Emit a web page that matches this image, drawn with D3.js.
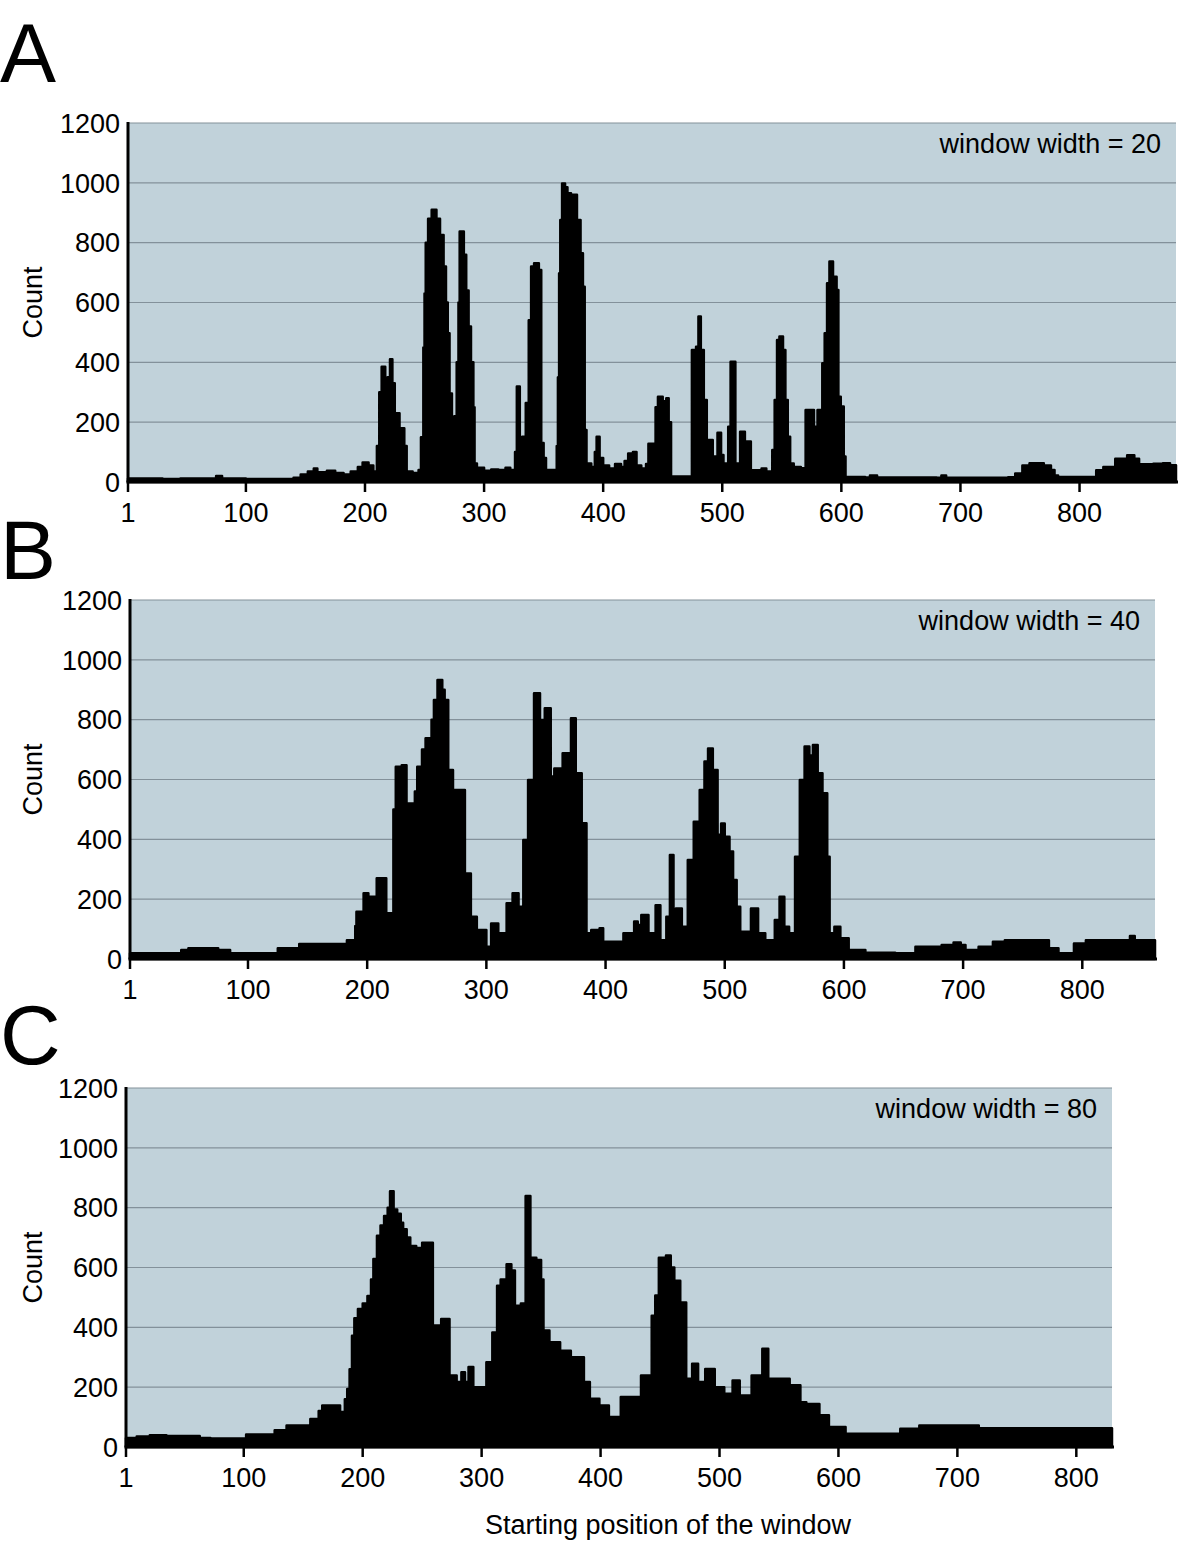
<!DOCTYPE html>
<html>
<head>
<meta charset="utf-8">
<script src="https://cdn.jsdelivr.net/npm/d3@7"></script>
<style>
  body { margin: 0; background: #fff; }
  svg { display: block; }
  text { font-family: "Liberation Sans", Arial, Helvetica, sans-serif; fill: #000; }
</style>
</head>
<body>
<svg id="chart"></svg>
<script>
// tick values and labels
const yTicks = [0, 200, 400, 600, 800, 1000, 1200];
const xTicks = [1, 100, 200, 300, 400, 500, 600, 700, 800];
const panelLetters = ["A", "B", "C"];
const windowWidths = [20, 40, 80];
const lastPosition = [881, 861, 830];

// counts as [starting position, count] steps
const stepsA = [[1,12],[30,10],[45,12],[75,20],[80,12],[100,10],[140,14],[146,25],[152,35],[157,45],[160,33],[168,38],[175,30],[182,25],[188,35],[194,50],[198,65],[203,55],[207,35],
  [210,120],[212,300],[214,385],[217,260],[219,350],[221,410],[223,330],[225,230],[229,180],[233,120],[235,35],[240,30],[245,40],
  [247,150],[249,450],[250,630],[251,800],[253,880],[256,910],[260,880],[263,826],[266,720],[268,600],[269.5,497],[271,296],[273,151],
  [275,220],[277,400],[278.5,600],[279.5,837],[283,760],[285,640],[287,520],[289,400],[291,250],[292,62],[294,48],[300,38],[306,42],[312,40],[318,48],[322,40],
  [326,100],[327.5,319],[330,97],[332,151],[335,264],[337.5,541],[339.5,720],[342,731],[346,709],[348,130],[350,80],[352,40],[358,40],
  [361,120],[362,350],[363,698],[364,876],[365.5,998],[368,985],[370,965],[373,960],[378,876],[381,765],[383,653],[384.5,174],[386,62],
  [390,50],[393,100],[394.5,151],[397,80],[400,55],[405,45],[410,60],[415,50],[418,70],[421,95],[425,100],[428,55],[432,45],[436,60],
  [438,128],[444,250],[446,285],[450,270],[453,280],[455,200],[457,18],
  [474.5,441],[478,452],[480,553],[482,441],[484.5,274],[487,140],[492,85],[496,165],[499,90],[501,62],
  [505,185],[507,402],[511,62],[515,168],[519,135],[524,39],[533,45],[537,35],
  [542,107],[544,274],[546,475],[548,486],[551,441],[553,274],[555,151],[557,62],[560,50],[566,46],
  [570,241],[577,185],[580,241],[584,397],[586,497],[588,664],[590,737],[593,686],[596,642],[597.5,285],[599.5,252],[602,85],[603.5,17],
  [620,15],[624,22],[630,15],[680,14],[684,22],[688,14],[740,16],[746,28],[752,55],[758,63],[770,55],[776,40],[779,22],[782,17],
  [814,39],[820,50],[830,78],[840,89],[846,78],[850,59],[862,61],[870,63],[876,56]];

const stepsB = [[1,19],[44,30],[50,36],[75,30],[85,19],[125,36],[143,50],[183,63],[190,110],[191,158],[197,220],[201,208],[208,270],[216,153],
  [222,500],[224,643],[229,648],[233,520],[239,409],[240,560],[242,643],[246,700],[249,738],[254,800],[256,866],[259,933],[263,900],[265,866],[268,632],
  [272,353],[273,565],[282,286],[287,141],[292,97],[300,41],[304,119],[310,86],[317,186],[322,220],[327,175],
  [331,398],[335,598],[340,888],[345,799],[349,838],[354,610],[357,637],[364,688],[371,805],[375,621],[380,454],[384,86],
  [388,97],[395,103],[398,58],[402,58],[415,86],[424,125],[427,114],[430,147],[436,86],[442,180],[446,63],[451,141],[454,348],[457,141],[459,169],[464,108],
  [469,331],[474,459],[479,565],[483,660],[486,704],[490,632],[494,415],[497,453],[500,409],[504,359],[507,264],[510,175],[513,91],
  [522,169],[528,86],[534,63],[542,130],[546,208],[550,108],[554,86],
  [559,342],[563,598],[567,710],[571,680],[574,715],[578,621],[582,554],[586,342],[588,86],[592,108],[597,69],[604,30],[618,21],
  [643,19],[660,41],[682,47],[692,55],[698,47],[702,30],[713,41],[725,58],[735,63],[772,36],[780,19],[793,52],[803,63],[840,77],[844,63]];

const stepsC = [[1,30],[10,35],[21,39],[35,37],[63,30],[72,28],[102,42],[126,56],[136,72],[156,94],[163,120],[166,139],[181,117],
  [185,160],[187,194],[189,260],[191,372],[193,430],[196,461],[200,480],[204,505],[207,560],[209,628],[212,706],[215,740],[218,772],[221,800],
  [223,855],[226,794],[229,780],[232,750],[234,728],[237,700],[240,672],[245,665],[250,683],
  [259,406],[266,428],[273,239],[279,217],[283,250],[286,217],[289,267],[293,200],
  [304,283],[309,383],[313,539],[316,560],[321,611],[325,590],[328,472],[333,480],[337,839],[341,633],[346,625],[350,560],
  [352,389],[357,350],[366,322],[375,300],[386,217],[391,161],[399,139],[407,100],
  [417,167],[434,239],[443,439],[446,506],[449,633],[455,640],[459,600],[462,556],[467,483],[472,228],[477,278],[482,217],[488,261],[496,200],[504,178],[511,222],[517,172],
  [527,239],[536,328],[541,228],[559,206],[568,150],[573,144],[584,106],[592,67],[606,44],[652,61],[668,72],[718,63]];

const allSteps = [stepsA, stepsB, stepsC];

// layout of the three panels
const panels = [
  { left: 128, right: 1176, top: 123, bottom: 482, letterY: 82 },
  { left: 130, right: 1155, top: 600, bottom: 959, letterY: 579 },
  { left: 126, right: 1112, top: 1088, bottom: 1447, letterY: 1064 }
];

const fontSize = "27px";

const svg = d3.select("#chart")
  .attr("width", 1196)
  .attr("height", 1542);

panels.forEach((p, i) => {
  const steps = allSteps[i];
  const data = steps.concat([[lastPosition[i], steps[steps.length - 1][1]]]);

  const x = d3.scaleLinear().domain([1, lastPosition[i]]).range([p.left, p.right]);
  const y = d3.scaleLinear().domain([0, 1200]).range([p.bottom, p.top]);

  const g = svg.append("g");

  // panel letter
  g.append("text")
    .attr("x", 0)
    .attr("y", p.letterY)
    .style("font-size", "84px")
    .text(panelLetters[i]);

  // background
  g.append("rect")
    .attr("x", p.left)
    .attr("y", p.top)
    .attr("width", p.right - p.left)
    .attr("height", p.bottom - p.top)
    .attr("fill", "#c1d2da");

  // grid lines
  g.selectAll("line.grid")
    .data(yTicks.filter(d => d > 0))
    .enter()
    .append("line")
    .attr("class", "grid")
    .attr("x1", p.left)
    .attr("x2", p.right)
    .attr("y1", d => y(d))
    .attr("y2", d => y(d))
    .attr("stroke", "#83919a")
    .attr("stroke-width", 1.2);

  // count area
  const area = d3.area()
    .curve(d3.curveStepAfter)
    .x(d => x(d[0]))
    .y0(y(0))
    .y1(d => y(d[1]));

  g.append("path")
    .datum(data)
    .attr("d", area)
    .attr("fill", "#000")
    .attr("stroke", "#000")
    .attr("stroke-width", 2.5)
    .attr("stroke-linejoin", "round");

  // y axis
  g.append("line")
    .attr("x1", p.left).attr("x2", p.left)
    .attr("y1", p.top - 1).attr("y2", p.bottom)
    .attr("stroke", "#000").attr("stroke-width", 3);

  g.selectAll("text.ylab")
    .data(yTicks)
    .enter()
    .append("text")
    .attr("class", "ylab")
    .attr("x", p.left - 8)
    .attr("y", d => y(d))
    .attr("dy", "0.36em")
    .attr("text-anchor", "end")
    .style("font-size", fontSize)
    .text(d => d);

  // x axis
  g.append("line")
    .attr("x1", p.left - 1.5).attr("x2", p.right + 2)
    .attr("y1", p.bottom).attr("y2", p.bottom)
    .attr("stroke", "#000").attr("stroke-width", 3);

  g.selectAll("line.xtick")
    .data(xTicks)
    .enter()
    .append("line")
    .attr("class", "xtick")
    .attr("x1", d => x(d)).attr("x2", d => x(d))
    .attr("y1", p.bottom).attr("y2", p.bottom + 10)
    .attr("stroke", "#000").attr("stroke-width", 2.5);

  g.selectAll("text.xlab")
    .data(xTicks)
    .enter()
    .append("text")
    .attr("class", "xlab")
    .attr("x", d => x(d))
    .attr("y", p.bottom + 30)
    .attr("dy", "0.36em")
    .attr("text-anchor", "middle")
    .style("font-size", fontSize)
    .text(d => d);

  // axis title
  g.append("text")
    .attr("transform", `translate(32,${(p.top + p.bottom) / 2}) rotate(-90)`)
    .attr("dy", "0.36em")
    .attr("text-anchor", "middle")
    .style("font-size", fontSize)
    .text("Count");

  // window width note
  g.append("text")
    .attr("x", p.right - 15)
    .attr("y", p.top + 20)
    .attr("dy", "0.36em")
    .attr("text-anchor", "end")
    .style("font-size", fontSize)
    .text("window width = " + windowWidths[i]);
});

svg.append("text")
  .attr("x", 668)
  .attr("y", 1524)
  .attr("dy", "0.36em")
  .attr("text-anchor", "middle")
  .style("font-size", fontSize)
  .text("Starting position of the window");
</script>
</body>
</html>
